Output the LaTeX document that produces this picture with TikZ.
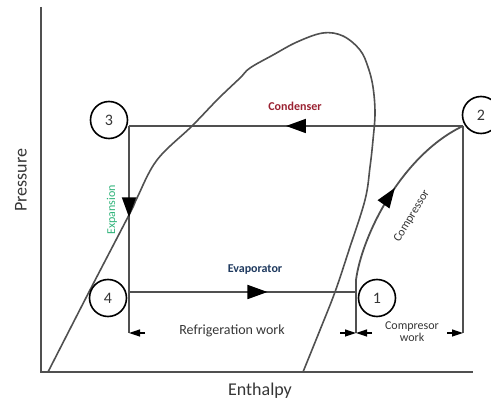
\documentclass[tikz,border=0pt]{standalone}
\usepackage{fontspec}
\setmainfont{Carlito}
\usetikzlibrary{arrows.meta, decorations.markings}
\definecolor{linegray}{HTML}{505050}
\definecolor{textgray}{HTML}{363636}
\definecolor{condred}{HTML}{9A2232}
\definecolor{evapblue}{HTML}{1F3A5F}
\definecolor{expgreen}{HTML}{2FB37A}
\tikzset{
  state/.style={circle, draw=black, line width=1.6pt, minimum size=37pt, inner sep=0pt, fill=white, text=textgray, font=\fontsize{16}{16}\selectfont},
  cycleline/.style={draw=linegray, line width=1.8pt},
  flowtip/.style={postaction={decorate}, decoration={markings, mark=at position #1 with {\arrow{Triangle[length=20pt,width=14pt,color=black]}}}},
  dimtip/.style={-{Triangle[length=11pt,width=7pt]}, draw=black, line width=1.2pt},
  lbl/.style={text=textgray, inner sep=1pt, font=\fontsize{#1}{#1}\selectfont},
  boldlbl/.style={inner sep=1pt, font=\fontsize{#1}{#1}\selectfont\bfseries},
}
\begin{document}
\begin{tikzpicture}[x=1pt, y=-1pt]
  \useasboundingbox (0,0) rectangle (491,403);
  \coordinate (O) at (41,372); \coordinate (ytop) at (41,7); \coordinate (xend) at (473,372);
  \draw[cycleline] (ytop) -- (O) -- (xend);
  \draw[cycleline, line width=1.6pt] plot[smooth, tension=0.6] coordinates {(48,372) (90,290) (130,213) (137,198) (157,160) (192,126) (218,99) (240,78) (250,68) (273,55) (297,42) (323,33) (343,36) (360,50) (368,67) (373,87) (375,113) (373,140) (370,167) (365,200) (349,250) (335,292) (320,330) (303,372)};
  \coordinate (c3) at (129,126); \coordinate (c2) at (463,126); \coordinate (c4) at (129,292); \coordinate (c1) at (356,292);
  \coordinate (k1) at (356,280);
  \coordinate (d3) at (129,333); \coordinate (d1) at (356,333); \coordinate (d2) at (463,333);
  \draw[cycleline, flowtip=0.53] (c2) -- (c3);
  \draw[cycleline, flowtip=0.55] (c3) -- (c4);
  \draw[cycleline] (c4) -- (d3);
  \draw[cycleline, flowtip=0.61] (c4) -- (c1);
  \draw[cycleline] (d1) -- (k1);
  \draw[cycleline, flowtip=0.52] (k1) .. controls (362,235) and (402,155) .. (c2);
  \draw[cycleline] (c2) -- (d2);
  \draw[dimtip] ([xshift=16pt]d3) -- (d3);
  \draw[dimtip] ([xshift=-16pt]d1) -- (d1);
  \draw[dimtip] ([xshift=16pt]d1) -- (d1);
  \draw[dimtip] ([xshift=-16pt]d2) -- (d2);
  \node[state] (n3) at (109,120) {3};
  \node[state] (n2) at (481,115) {2};
  \node[state] (n4) at (108,298) {4};
  \node[state] (n1) at (377,298) {1};
  \node[lbl=18, rotate=90] (ylab) at (21,180) {Pressure};
  \node[lbl=18] (xlab) at (260,391) {Enthalpy};
  \node[boldlbl=12, text=condred] (cond) at (295,106) {Condenser};
  \node[boldlbl=12, text=evapblue] (evap) at (255,270) {Evaporator};
  \node[lbl=12, text=expgreen, rotate=90] (expa) at (112,210) {Expansion};
  \node[lbl=12, rotate=59] (comp) at (412,216) {Compressor};
  \node[lbl=14] (refw) at (232,331) {Refrigeration work};
  \node[lbl=12, align=center] (compw) at (412,332) {Compresor\\work};
\end{tikzpicture}
\end{document}
